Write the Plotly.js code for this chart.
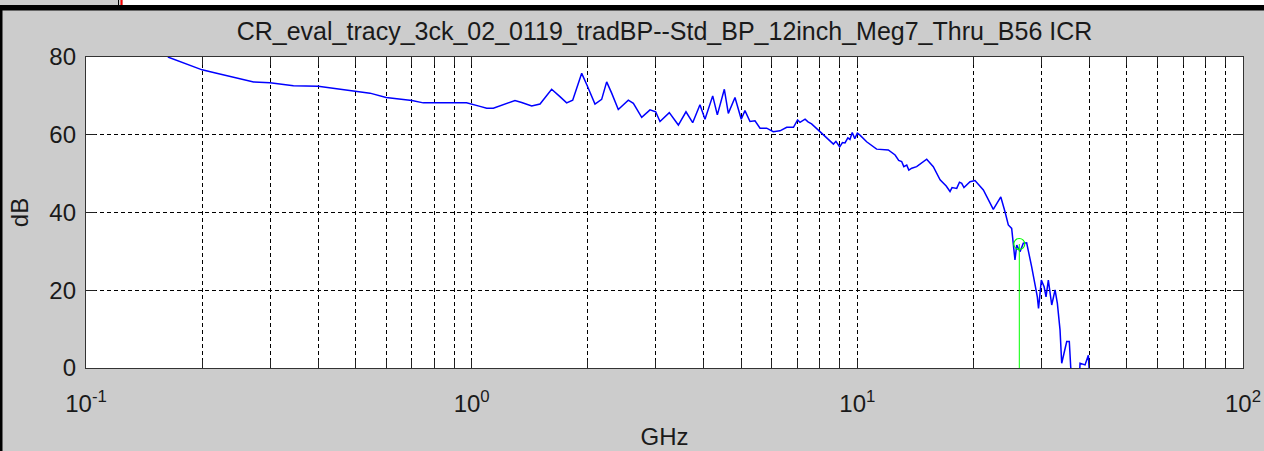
<!DOCTYPE html>
<html>
<head>
<meta charset="utf-8">
<script src="https://cdn.plot.ly/plotly-3.0.1.min.js"></script>
<style>
html,body{margin:0;padding:0;background:#cccccc;}
#chart{width:1264px;height:451px;}
</style>
</head>
<body>
<div id="chart"></div>
<script>
// ---- data ----
const freqGHz = [
  0.163, 0.175, 0.200, 0.214, 0.246, 0.272, 0.300, 0.345, 0.400, 0.456,
  0.500, 0.545, 0.600, 0.700, 0.749, 0.970, 1.051, 1.094, 1.138, 1.184,
  1.233, 1.295, 1.348, 1.431, 1.504, 1.612, 1.694, 1.763, 1.828, 1.929,
  1.990, 2.088, 2.173, 2.239, 2.307, 2.400, 2.548, 2.626, 2.760, 2.900,
  3.000, 3.078, 3.254, 3.435, 3.595, 3.742, 3.908, 4.027, 4.217, 4.335,
  4.520, 4.629, 4.817, 5.000, 5.112, 5.268, 5.428, 5.594, 5.820, 6.056,
  6.302, 6.560, 6.830, 7.000, 7.100, 7.320, 7.450, 7.610, 8.000, 8.330,
  8.500, 8.670, 8.800, 9.000, 9.150, 9.290, 9.450, 9.570, 9.700, 9.850,
  10.00, 10.16, 10.57, 11.22, 12.03, 12.53, 12.80, 13.03, 13.20, 13.43,
  13.60, 13.84, 14.25, 15.13, 15.74, 16.39, 17.00, 17.39, 17.60, 18.10,
  18.40, 18.65, 18.90, 19.21, 19.60, 20.19, 20.70, 21.22, 22.52, 23.55,
  24.15, 24.63, 25.13, 25.38, 25.63, 25.90, 26.41, 26.94, 27.48, 28.31,
  28.88, 29.29, 29.50, 30.00, 30.50, 30.85, 31.28, 31.92, 32.56, 33.01,
  33.54, 33.88, 34.35, 34.91, 35.45, 35.75, 36.50, 37.50, 37.80, 38.94,
  39.72, 40.00
];
const insertionDB = [
  80.0, 78.8, 76.7, 76.0, 74.5, 73.6, 73.4, 72.6, 72.5, 71.7,
  71.3, 70.7, 69.6, 68.8, 68.2, 68.2, 67.3, 66.8, 66.8, 67.4,
  67.9, 68.8, 68.3, 67.4, 67.9, 71.7, 69.8, 68.2, 68.9, 75.8,
  72.8, 67.9, 69.1, 73.6, 70.7, 66.5, 68.9, 68.1, 64.5, 66.4,
  65.9, 63.4, 65.7, 62.5, 65.9, 63.1, 67.7, 64.0, 70.0, 65.1,
  71.7, 65.5, 69.6, 64.0, 66.2, 63.4, 63.6, 61.7, 61.7, 60.8,
  61.0, 61.9, 61.9, 63.8, 63.2, 64.0, 63.3, 62.8, 60.8, 59.1,
  58.2, 57.6, 58.3, 56.9, 58.0, 57.9, 59.2, 58.8, 60.6, 59.0,
  60.4, 59.9, 58.2, 56.3, 56.1, 54.8, 53.4, 53.1, 51.8, 52.2,
  50.9, 51.4, 51.8, 53.7, 51.8, 48.4, 46.8, 45.4, 46.4, 46.2,
  47.8, 47.5, 46.4, 47.1, 47.9, 48.2, 46.9, 45.8, 40.8, 44.0,
  40.2, 36.8, 35.9, 30.8, 27.8, 31.6, 29.9, 32.1, 32.2, 26.1,
  21.3, 18.3, 15.3, 22.6, 20.9, 18.3, 22.6, 16.2, 20.1, 16.6,
  9.8, 1.2, 3.8, 6.8, 6.8, 0.3, -8.0, -6.0, 1.2, 0.8,
  3.3, -2.0
];
// green marker (selected point)
const markerFreq = [26.3, 26.3];
const markerDB = [0, 31.9];

const xTickVals = [0.1, 1, 10, 100];
const xTickText = ['10<sup>-1</sup>', '10<sup>0</sup>', '10<sup>1</sup>', '10<sup>2</sup>'];
const xMinorVals = [0.2,0.3,0.4,0.5,0.6,0.7,0.8,0.9,
                    2,3,4,5,6,7,8,9,
                    20,30,40,50,60,70,80,90];
const yTickVals = [0, 20, 40, 60, 80];

const chartTitle = 'CR_eval_tracy_3ck_02_0119_tradBP--Std_BP_12inch_Meg7_Thru_B56 ICR';

// ---- layout geometry ----
const W = 1264, H = 451;
const PL = 86, PR = 1243, PT = 57, PB = 368;
const px = p => (p - PL) / (PR - PL);
const py = p => (PB - p) / (PB - PT);

const FONT = '"Liberation Sans", Arial, Helvetica, sans-serif';
const TXT = '#1a1a1a';

const traces = [
  {
    x: freqGHz, y: insertionDB, type: 'scatter', mode: 'lines',
    line: {color: '#0000ff', width: 1.5}, hoverinfo: 'skip', showlegend: false
  },
  {
    x: markerFreq, y: markerDB, type: 'scatter', mode: 'lines',
    line: {color: '#00ff00', width: 1}, showlegend: false, hoverinfo: 'skip'
  },
  {
    x: [markerFreq[1]], y: [markerDB[1]], type: 'scatter', mode: 'markers',
    marker: {symbol: 'circle-open', size: 11, color: '#00ff00', line: {width: 1.2, color: '#00ff00'}},
    showlegend: false, hoverinfo: 'skip', cliponaxis: false
  }
];

const shapes = [
  {type:'rect', xref:'paper', yref:'paper', x0:px(123), x1:px(W), y0:py(0), y1:py(5),
   fillcolor:'#ffffff', line:{width:0}},
  {type:'line', xref:'paper', yref:'paper', x0:px(118.5), x1:px(118.5), y0:py(0), y1:py(5),
   line:{color:'#000000', width:1}},
  {type:'line', xref:'paper', yref:'paper', x0:px(121.5), x1:px(121.5), y0:py(0), y1:py(5),
   line:{color:'#ff0000', width:2}},
  {type:'rect', xref:'paper', yref:'paper', x0:px(0), x1:px(W), y0:py(5), y1:py(10.5),
   fillcolor:'#000000', line:{width:0}},
  {type:'rect', xref:'paper', yref:'paper', x0:px(0), x1:px(2.5), y0:py(10), y1:py(H),
   fillcolor:'#000000', line:{width:0}}
];

const layout = {
  width: W, height: H,
  paper_bgcolor: '#cccccc', plot_bgcolor: '#ffffff',
  margin: {l: PL, r: W - PR, t: PT, b: H - PB, pad: 0},
  font: {family: FONT, size: 24, color: TXT},
  title: {text: chartTitle, font: {family: FONT, size: 25, color: TXT},
          x: (PL + PR) / 2 / W, xanchor: 'center', y: 1 - 31 / H, yanchor: 'middle'},
  xaxis: {
    type: 'log', range: [-1, 2], autorange: false,
    tickmode: 'array', tickvals: xTickVals, ticktext: xTickText,
    showgrid: true, gridcolor: '#000000', gridwidth: 1, griddash: '4px,3px',
    ticks: 'inside', ticklen: 8, tickcolor: '#222', tickwidth: 1,
    minor: {tickmode: 'array', tickvals: xMinorVals, ticks: 'inside', ticklen: 8,
            tickcolor: '#222', tickwidth: 1,
            showgrid: true, gridcolor: '#000000', gridwidth: 1, griddash: '4px,3px'},
    showline: true, linecolor: '#333333', linewidth: 1.2, mirror: 'ticks',
    zeroline: false, ticklabelstandoff: 14,
    tickfont: {family: FONT, size: 24, color: TXT},
    title: {text: 'GHz', font: {family: FONT, size: 24, color: TXT}, standoff: 12}
  },
  yaxis: {
    range: [0, 80], autorange: false,
    tickmode: 'array', tickvals: yTickVals,
    showgrid: true, gridcolor: '#000000', gridwidth: 1, griddash: '4px,3px',
    ticks: 'inside', ticklen: 10, tickcolor: '#222', tickwidth: 1,
    showline: true, linecolor: '#333333', linewidth: 1.2, mirror: 'ticks',
    zeroline: false, ticklabelstandoff: 4,
    tickfont: {family: FONT, size: 24, color: TXT},
    title: {text: 'dB', font: {family: FONT, size: 24, color: TXT}, standoff: 13}
  },
  shapes: shapes,
  showlegend: false
};

Plotly.newPlot('chart', traces, layout, {displayModeBar: false, staticPlot: true});
</script>
</body>
</html>
